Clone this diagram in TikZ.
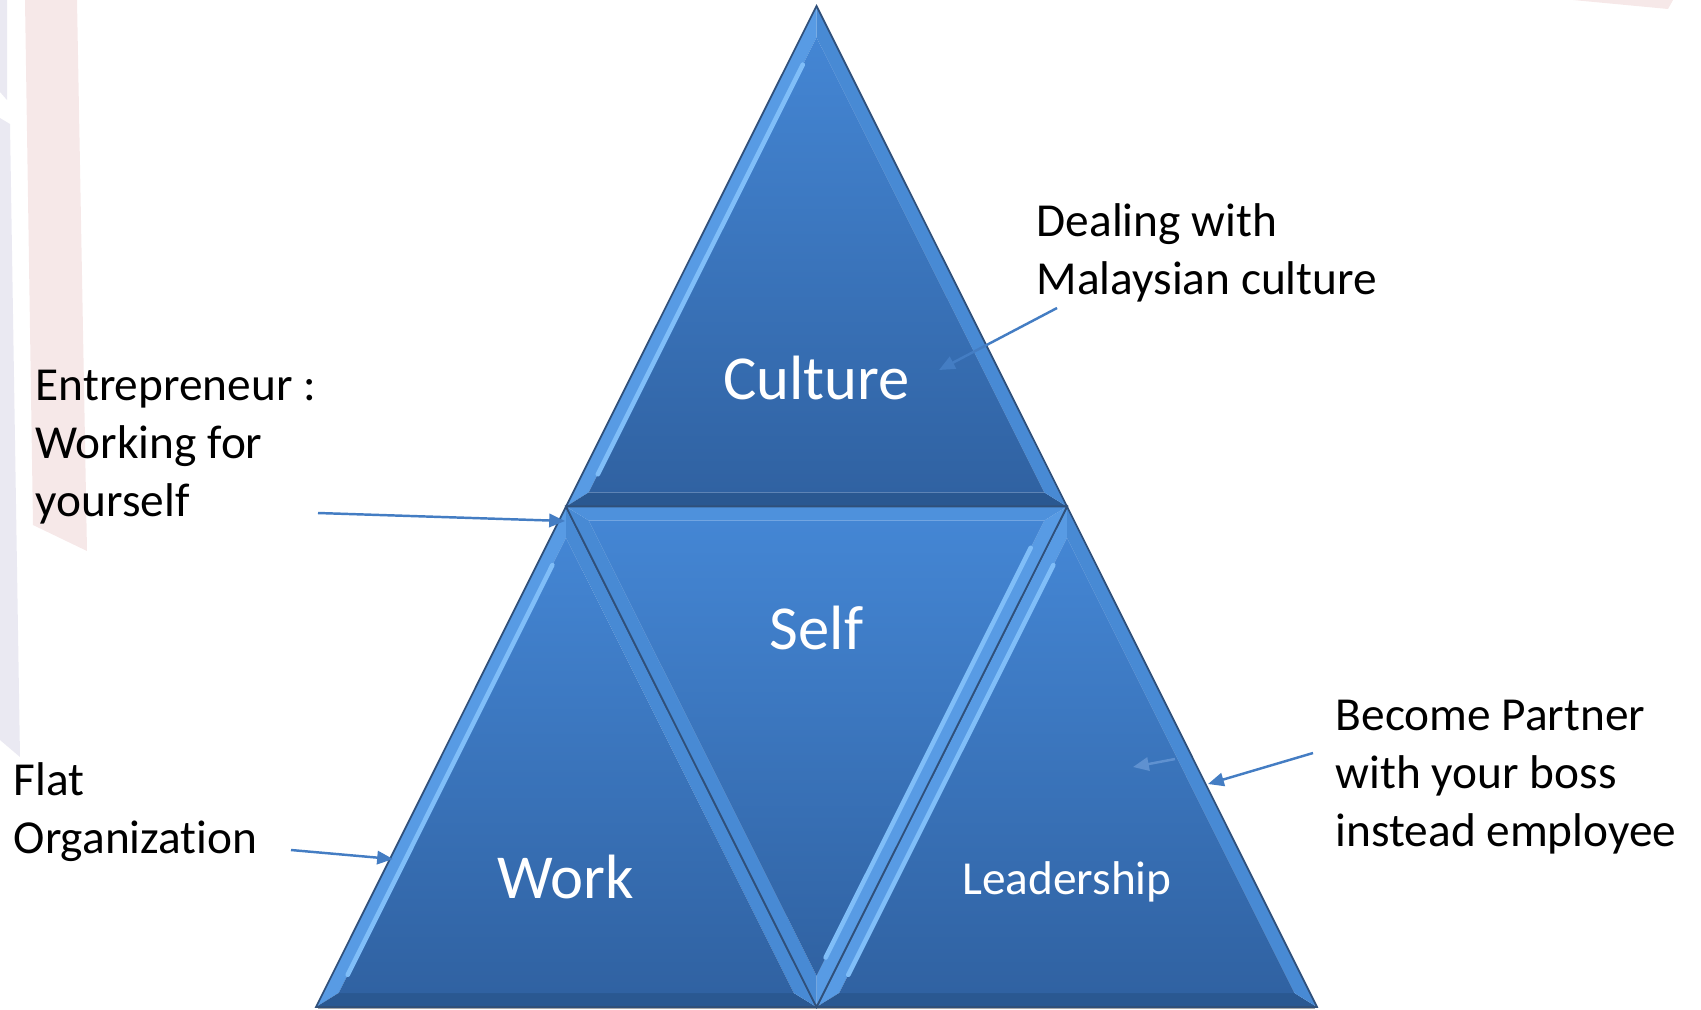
\documentclass[tikz,border=0pt]{standalone}
\usepackage{fontspec}
\setmainfont{Carlito}[Ligatures=NoCommon]
\usetikzlibrary{calc,arrows.meta}
\definecolor{bglav}{RGB}{234,233,242}
\definecolor{bgpink}{RGB}{246,232,232}
\definecolor{bevlit}{RGB}{88,155,228}
\definecolor{bevhi}{RGB}{128,190,248}
\definecolor{bevmid}{RGB}{72,138,212}
\definecolor{bevtop}{RGB}{78,145,220}
\definecolor{bevdark}{RGB}{42,88,145}
\definecolor{facetop}{RGB}{68,134,212}
\definecolor{facebot}{RGB}{48,98,162}
\definecolor{edgeline}{RGB}{48,80,122}
\definecolor{arrowblue}{RGB}{68,125,195}
\definecolor{faintblue}{RGB}{95,145,208}
\tikzset{
  lbl/.style={anchor=base west, inner sep=0pt, text=black, font=\fontsize{13.46}{16.5}\selectfont},
  big/.style={anchor=base, inner sep=0pt, text=white, font=\fontsize{17.8}{21}\selectfont},
  ptr/.style={draw=arrowblue, line width=0.7pt, -{Triangle[length=4.5pt,width=3.8pt]}},
  face/.style={top color=facetop, bottom color=facebot},
}
% #1 #2 #3 vertices (edge 1-2 is the lit one), #4 incentre, #5 #6 #7 bevel colours of edges 1-2, 2-3, 3-1
\newcommand\bevtri[7]{%
  \coordinate (p1) at ($(#4)!0.9095!(#1)$);
  \coordinate (p2) at ($(#4)!0.9095!(#2)$);
  \coordinate (p3) at ($(#4)!0.9095!(#3)$);
  \fill[#5] (#1) -- (#2) -- (p2) -- (p1) -- cycle;
  \fill[#6] (#2) -- (#3) -- (p3) -- (p2) -- cycle;
  \fill[#7] (#3) -- (#1) -- (p1) -- (p3) -- cycle;
  \shade[face] (p1) -- (p2) -- (p3) -- cycle;
  \draw[bevhi, line width=1.3pt, line cap=round] ($(p1)!0.06!(p2)$) -- ($(p1)!0.96!(p2)$);
  \draw[edgeline, line width=0.5pt] (#1) -- (#2) -- (#3) -- cycle;
}
\begin{document}
\begin{tikzpicture}[x=0.01cm,y=-0.01cm]
\useasboundingbox (0,0) rectangle (1701,1009);
% slide background pieces
\fill[bglav] (0,0) -- (7,0) -- (7,100) -- (0,92) -- cycle;
\fill[bglav] (0,118) -- (10,124) -- (20,757) -- (0,740) -- cycle;
\fill[bgpink] (25,0) -- (77,0) -- (87,551) -- (33,525) -- cycle;
\fill[bgpink] (1573,0) -- (1673,0) -- (1668,9) -- cycle;

% pyramid vertices
\coordinate (A) at (816.5,6);
\coordinate (ML) at (566,506.5);
\coordinate (MR) at (1067,506.5);
\coordinate (BL) at (316,1007);
\coordinate (BM) at (816.5,1007);
\coordinate (BR) at (1317,1007);
% incentres
\coordinate (IT) at (816.5,351.8);
\coordinate (IW) at (566,852.3);
\coordinate (IL) at (1067,852.3);
\coordinate (IS) at (816.5,661.2);

\fill[black!35] (318,1007) rectangle (1315,1009);
\bevtri{A}{ML}{MR}{IT}{bevlit}{bevdark}{bevmid}
\bevtri{ML}{BL}{BM}{IW}{bevlit}{bevdark}{bevmid}
\bevtri{MR}{BM}{BR}{IL}{bevlit}{bevdark}{bevmid}
\bevtri{MR}{BM}{ML}{IS}{bevlit}{bevmid}{bevtop}

% texts in the pyramid
\node[big] (culture) at (816.5,399) {Culture};
\node[big] (self) at (816.5,649) {Self};
\node[big] (work) at (566,898) {Work};
\node[big, font=\fontsize{13.46}{16.2}\selectfont] (lead) at (1067,894) {Leadership};

% side labels
\node[lbl] (lblcult) at (1036,236.5) {\begin{tabular}[t]{@{}l@{}}Dealing with\\Malaysian culture\end{tabular}};
\node[lbl] (lblentre) at (35,400) {\begin{tabular}[t]{@{}l@{}}Entrepreneur :\\Working for\\yourself\end{tabular}};
\node[lbl] (lblflat) at (13,795) {\begin{tabular}[t]{@{}l@{}}Flat\\Organization\end{tabular}};
\node[lbl] (lblpart) at (1335,730) {\begin{tabular}[t]{@{}l@{}}Become Partner\\with your boss\\instead employee\end{tabular}};

% pointers
\coordinate (c1s) at (1057,308); \coordinate (c1e) at (939,370);
\coordinate (c2s) at (318,513);  \coordinate (c2e) at (565,521);
\coordinate (c3s) at (291,850);  \coordinate (c3e) at (393,859);
\coordinate (c4s) at (1313,753); \coordinate (c4e) at (1208,784);
\coordinate (c5s) at (1175,759); \coordinate (c5e) at (1133,767);
\draw[ptr] (c1s) -- (c1e);
\draw[ptr] (c2s) -- (c2e);
\draw[ptr] (c3s) -- (c3e);
\draw[ptr] (c4s) -- (c4e);
\draw[ptr, draw=faintblue] (c5s) -- (c5e);
\end{tikzpicture}
\end{document}
